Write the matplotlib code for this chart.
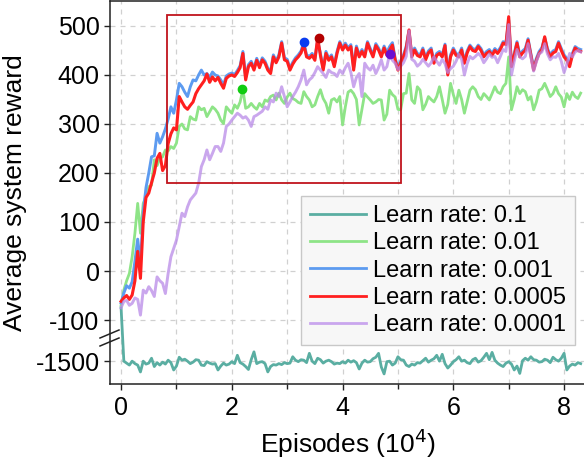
import numpy as np
import matplotlib
matplotlib.use("Agg")
import matplotlib.pyplot as plt
from matplotlib.patches import Rectangle

plt.rcParams['font.family'] = ['Liberation Sans', 'DejaVu Sans']
plt.rcParams['axes.unicode_minus'] = False

# ---------------- data ----------------
episodes = np.round(np.arange(0, 8.325, 0.05), 2)   # x in units of 10^4 episodes

lr_0_1 = [-75, -1500, -1504, -1508, -1500, -1505, -1508, -1522, -1500, -1506,
          -1504, -1494, -1511, -1503, -1508, -1502, -1506, -1498, -1503, -1518,
          -1510, -1492, -1498, -1496, -1500, -1505, -1502, -1497, -1498, -1508,
          -1509, -1501, -1504, -1506, -1505, -1518, -1510, -1504, -1508, -1506,
          -1501, -1505, -1488, -1503, -1506, -1511, -1517, -1497, -1481, -1505,
          -1502, -1501, -1505, -1522, -1511, -1507, -1508, -1505, -1507, -1503,
          -1505, -1504, -1491, -1498, -1501, -1497, -1498, -1503, -1484, -1500,
          -1505, -1494, -1497, -1504, -1500, -1498, -1501, -1506, -1504, -1505,
          -1501, -1504, -1498, -1502, -1499, -1503, -1516, -1504, -1498, -1502,
          -1501, -1495, -1492, -1484, -1512, -1526, -1501, -1500, -1508, -1504,
          -1491, -1497, -1498, -1508, -1511, -1506, -1508, -1503, -1504, -1499,
          -1494, -1502, -1498, -1495, -1488, -1500, -1486, -1505, -1514, -1508,
          -1501, -1497, -1491, -1500, -1498, -1503, -1505, -1497, -1494, -1502,
          -1499, -1492, -1484, -1497, -1482, -1498, -1504, -1508, -1511, -1504,
          -1501, -1506, -1518, -1510, -1525, -1499, -1494, -1498, -1491, -1497,
          -1498, -1502, -1501, -1496, -1498, -1503, -1492, -1497, -1500, -1494,
          -1484, -1518, -1510, -1506, -1508, -1503, -1505]

lr_0_01 = [-70, -39, -20, -5, 29, 77, 138, 77, 138, 152,
           172, 175, 227, 215, 230, 233, 247, 245, 254, 250,
           261, 295, 300, 290, 288, 315, 310, 308, 335, 329,
           332, 315, 325, 335, 330, 322, 308, 301, 335, 328,
           322, 339, 332, 345, 371, 332, 335, 342, 335, 330,
           342, 335, 349, 346, 356, 359, 349, 363, 349, 342,
           355, 363, 352, 349, 344, 342, 366, 356, 349, 335,
           339, 356, 370, 352, 342, 322, 349, 352, 345, 356,
           298, 335, 365, 369, 362, 350, 298, 330, 362, 355,
           349, 342, 345, 350, 349, 308, 320, 369, 360, 355,
           330, 329, 362, 363, 403, 349, 342, 376, 369, 329,
           340, 356, 350, 345, 356, 376, 350, 322, 340, 383,
           360, 342, 369, 350, 322, 345, 369, 376, 370, 356,
           350, 362, 356, 349, 362, 376, 365, 362, 376, 383,
           437, 329, 350, 376, 362, 370, 366, 349, 356, 329,
           345, 369, 372, 383, 370, 356, 362, 376, 362, 355,
           335, 362, 350, 365, 356, 352, 363]

lr_0_001 = [-65, -45, -30, -35, -22, 20, 65, 15, 120, 170,
            200, 233, 235, 281, 261, 274, 290, 310, 335, 322,
            349, 383, 376, 365, 356, 376, 390, 388, 400, 410,
            400, 403, 395, 406, 400, 398, 390, 380, 398, 402,
            404, 401, 409, 419, 448, 395, 421, 428, 414, 434,
            419, 435, 428, 414, 407, 441, 429, 441, 468, 435,
            432, 414, 426, 435, 441, 449, 467, 441, 438, 444,
            434, 470, 444, 414, 448, 434, 441, 421, 448, 468,
            455, 465, 455, 462, 415, 459, 441, 452, 441, 468,
            454, 441, 464, 455, 441, 459, 446, 458, 466, 434,
            415, 429, 441, 459, 490, 441, 455, 444, 441, 455,
            435, 449, 455, 428, 444, 448, 441, 463, 404, 441,
            455, 444, 441, 455, 428, 449, 461, 454, 452, 461,
            454, 441, 448, 452, 444, 454, 448, 456, 468, 465,
            512, 421, 444, 468, 441, 449, 454, 474, 444, 414,
            434, 448, 456, 476, 454, 441, 449, 452, 468, 454,
            441, 434, 421, 444, 458, 454, 452]

lr_0_0005 = [-62, -55, -50, -58, -49, -20, 40, -15, 100, 150,
             159, 180, 200, 230, 240, 205, 215, 260, 280, 292,
             288, 356, 345, 335, 330, 338, 345, 362, 372, 380,
             388, 402, 385, 396, 388, 395, 383, 373, 393, 398,
             400, 397, 405, 415, 444, 390, 417, 424, 410, 430,
             415, 431, 424, 410, 403, 437, 425, 437, 465, 431,
             428, 410, 422, 431, 437, 445, 462, 437, 434, 440,
             430, 476, 440, 410, 444, 430, 437, 417, 444, 465,
             451, 461, 451, 458, 410, 455, 437, 448, 437, 465,
             450, 437, 460, 451, 437, 455, 440, 451, 461, 430,
             410, 425, 437, 455, 492, 437, 451, 440, 437, 451,
             431, 445, 451, 424, 440, 444, 437, 460, 400, 437,
             451, 440, 437, 451, 424, 445, 458, 450, 448, 458,
             450, 437, 444, 448, 440, 450, 444, 452, 465, 462,
             519, 417, 440, 465, 437, 445, 450, 471, 440, 410,
             430, 444, 452, 478, 450, 437, 445, 448, 465, 450,
             437, 430, 417, 440, 455, 450, 448]

lr_0_0001 = [-75, -62, -60, -70, -66, -55, -58, -90, -39, -45,
             -32, -40, -52, -12, -20, -25, -46, -5, 29, 46,
             63, 90, 118, 111, 131, 145, 152, 159, 179, 213,
             227, 247, 227, 240, 254, 254, 244, 261, 295, 300,
             308, 315, 322, 318, 312, 315, 308, 295, 315, 318,
             322, 326, 335, 330, 349, 345, 363, 356, 376, 356,
             335, 345, 356, 365, 376, 390, 410, 380, 390, 395,
             405, 417, 410, 403, 395, 410, 405, 403, 397, 410,
             403, 415, 424, 405, 376, 395, 403, 356, 424, 415,
             410, 420, 403, 415, 431, 410, 417, 443, 430, 424,
             411, 418, 425, 438, 490, 432, 428, 418, 423, 432,
             425, 418, 425, 437, 428, 420, 432, 423, 405, 413,
             418, 428, 442, 432, 400, 423, 438, 433, 438, 444,
             438, 425, 433, 443, 436, 438, 425, 438, 452, 448,
             503, 400, 428, 452, 437, 433, 438, 464, 437, 408,
             427, 443, 447, 464, 443, 431, 437, 436, 444, 428,
             405, 422, 444, 437, 447, 450, 447]

series_labels = ["Learn rate: 0.1", "Learn rate: 0.01", "Learn rate: 0.001",
                 "Learn rate: 0.0005", "Learn rate: 0.0001"]

# highlighted peaks inside the red box (green, blue, red, purple)
peak_x = [2.19, 3.31, 3.57, 4.86]
peak_y = [371, 467, 476, 443]

# zoom box (x0, x1, y0, y1)
box_x = [0.83, 5.05]
box_y = [180, 522]

y_ticks = [-1500, -100, 0, 100, 200, 300, 400, 500]

# ---------------- broken-axis scale ----------------
def fwd(y):
    y = np.asarray(y, dtype=float)
    return np.where(y >= -140, y,
                    np.where(y <= -1460, y + 1316, -140 + (y + 140) * (4.0 / 1320.0)))

def inv(u):
    u = np.asarray(u, dtype=float)
    return np.where(u >= -140, u,
                    np.where(u <= -144, u - 1316, -140 + (u + 140) * (1320.0 / 4.0)))

# ---------------- figure ----------------
fig = plt.figure(figsize=(5.84, 4.66), dpi=100)
ax = fig.add_axes([110 / 584, 1 - 384 / 466, 1 - 110 / 584, 383 / 466])
ax.set_yscale('function', functions=(fwd, inv))

colors = ["#5aaea2", "#8ee487", "#5d9bf0", "#ff1f1f", "#b98ae8"]
lws = [2.0, 2.0, 2.1, 2.2, 2.1]
alphas = [1, 1, 1, 1, 0.75]
data = [lr_0_1, lr_0_01, lr_0_001, lr_0_0005, lr_0_0001]
for d, c, lw, a, lab in zip(data, colors, lws, alphas, series_labels):
    ax.plot(episodes, d, color=c, lw=lw, alpha=a, label=lab, zorder=3)

peak_colors = ["#11cc11", "#0a3cf0", "#b30000", "#6a0fd0"]
for px_, py_, pc in zip(peak_x, peak_y, peak_colors):
    ax.plot([px_], [py_], 'o', color=pc, ms=6, zorder=5)

ax.add_patch(Rectangle((box_x[0], box_y[0]), box_x[1] - box_x[0], box_y[1] - box_y[0],
                       fill=False, edgecolor="#c0141c", lw=1.3, zorder=4))

ax.set_xlim(-0.2, 8.36)
ax.set_ylim(-1546.6, 551)

ax.set_xticks([0, 2, 4, 6, 8])
ax.set_xticklabels(["0", "2", "4", "6", "8"])
ax.set_xticks([1, 3, 5, 7], minor=True)
ax.set_yticks(y_ticks)
ax.set_yticklabels([str(t) for t in y_ticks])
ax.yaxis.set_minor_locator(matplotlib.ticker.NullLocator())

ax.tick_params(axis='both', which='major', direction='out', length=4.5, width=1,
               labelsize=18, color='#222222')
ax.tick_params(axis='x', which='major', pad=4)
ax.tick_params(axis='y', which='major', pad=3)
ax.tick_params(axis='x', which='minor', direction='out', length=3.5, width=1, color='#222222')

grid_kw = dict(color='#d0d0d0', lw=0.9, ls=(0, (4, 4)))
ax.grid(True, which='both', axis='x', **grid_kw)
ax.grid(True, which='major', axis='y', **grid_kw)
ax.set_axisbelow(True)

for side in ['left', 'bottom', 'top']:
    ax.spines[side].set_linewidth(1.1)
    ax.spines[side].set_color('#222222')
ax.spines['right'].set_visible(False)

ax.set_xlabel("Episodes (10$^4$)", fontsize=19)
ax.set_ylabel("Average system reward", fontsize=19)
ax.xaxis.set_label_coords(0.502, -0.112)
ax.yaxis.set_label_coords(-0.175, 0.5)

# axis-break marks
for yb in [(338, 330), (346, 338)]:
    ax.plot([(100 - 110) / 474, (119 - 110) / 474],
            [(384 - yb[0]) / 383, (384 - yb[1]) / 383],
            transform=ax.transAxes, color='#222222', lw=1.1, clip_on=False, zorder=6)

leg = ax.legend(loc='lower right', bbox_to_anchor=((575 - 110) / 474, 0.102),
                fontsize=17, frameon=True, fancybox=False, framealpha=1,
                facecolor='#f7f7f7', edgecolor='#c8c8c8', borderaxespad=0,
                handlelength=2.35, handletextpad=0.3, labelspacing=0.22, borderpad=0.38)
leg.get_frame().set_linewidth(1.0)
for line in leg.get_lines():
    line.set_linewidth(2.0)
    line.set_alpha(1)
leg.get_lines()[4].set_color("#c9a6ee")

fig.savefig("out.png", dpi=100)
